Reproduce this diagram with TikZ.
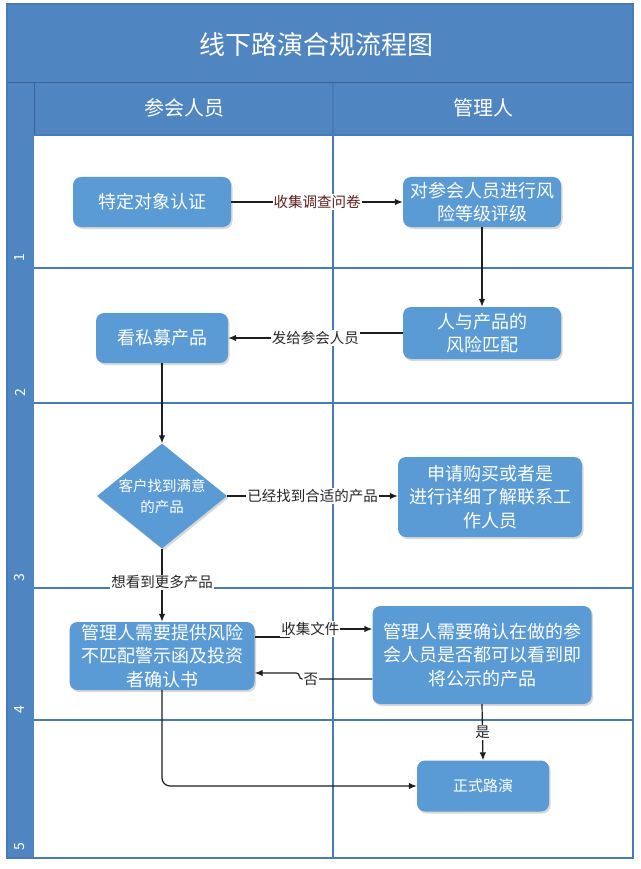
\documentclass[tikz,border=0pt]{standalone}
\usepackage{fontspec}
\newfontfamily\cjk{Noto Sans CJK SC}
\usetikzlibrary{shapes.geometric,arrows.meta,shadows,calc}
\definecolor{band}{RGB}{79,134,194}
\definecolor{boxc}{RGB}{91,155,213}
\definecolor{lanel}{RGB}{70,122,184}
\definecolor{labelred}{RGB}{95,30,30}
\definecolor{arrc}{RGB}{30,30,30}
\tikzset{
  proc/.style={rounded corners=8pt, fill=boxc, text=white, align=center,
    inner sep=0pt, font=\cjk\fontsize{18}{23.5}\selectfont,
    drop shadow={shadow xshift=1.5pt, shadow yshift=-2pt, opacity=0.25, fill=black!60}},
  decis/.style={diamond, fill=boxc, inner sep=0pt,
    drop shadow={shadow xshift=1.5pt, shadow yshift=-2pt, opacity=0.25, fill=black!60}},
  lbl/.style={fill=white, inner sep=1pt, text=black!85, font=\cjk\fontsize{14.5}{16}\selectfont},
  arr/.style={draw=arrc, line width=1.2pt, -{Latex[length=8pt,width=6.5pt]}},
  lanenum/.style={rotate=90, text=white, font=\cjk\fontsize{14}{16}\selectfont},
  lanesep/.style={draw=lanel, line width=1.3pt}
}
\begin{document}
\begin{tikzpicture}[x=1pt,y=-1pt]
\useasboundingbox (0,0) rectangle (640,869);
\fill[white] (0,0) rectangle (640,869);
% bands
\fill[band] (7,4) rectangle (633,83);
\fill[band] (7,83) rectangle (633,135);
\fill[band] (7,135) rectangle (34,858);
\draw[draw=lanel!80!black, line width=1pt] (7,83) -- (633,83);
\draw[draw=lanel!80!black, line width=1pt] (34,83) -- (34,135);
\draw[lanesep] (34,135) -- (633,135);
\draw[lanesep] (333,83) -- (333,858);
\foreach \yy in {268,403,588,720} {\draw[lanesep] (34,\yy) -- (633,\yy);}
\draw[draw=lanel, line width=1.6pt] (7,4) rectangle (633,858);
% texts of bands
\node[text=white, font=\cjk\fontsize{26}{30}\selectfont] (title) at (316,45) {线下路演合规流程图};
\node[text=white, font=\cjk\fontsize{20}{24}\selectfont] (h1) at (184,108) {参会人员};
\node[text=white, font=\cjk\fontsize{20}{24}\selectfont] (h2) at (483,108) {管理人};
\node[lanenum] (l1) at (20,258) {1};
\node[lanenum] (l2) at (20,393) {2};
\node[lanenum] (l3) at (20,578) {3};
\node[lanenum] (l4) at (20,710) {4};
\node[lanenum] (l5) at (20,847) {5};
% nodes
\node[proc, minimum width=158pt, minimum height=50pt] (n1) at (152,202) {特定对象认证};
\node[proc, minimum width=158pt, minimum height=50pt] (n2) at (482,202) {对参会人员进行风\\险等级评级};
\node[proc, minimum width=158pt, minimum height=52pt] (n3) at (482,333) {人与产品的\\风险匹配};
\node[proc, minimum width=132pt, minimum height=50pt] (n4) at (162,338) {看私募产品};
\node[decis, minimum width=130pt, minimum height=105pt] (d1) at (162,496) {};
\node[text=white, align=center, font=\cjk\fontsize{14.5}{21}\selectfont] (d1t) at (d1.center) {客户找到满意\\的产品};
\node[proc, minimum width=184pt, minimum height=80pt] (n5) at (490,497) {申请购买或者是\\进行详细了解联系工\\作人员};
\node[proc, minimum width=185pt, minimum height=68pt] (n6) at (162,656) {管理人需要提供风险\\不匹配警示函及投资\\者确认书};
\node[proc, minimum width=219pt, minimum height=98pt] (n7) at (482,655) {管理人需要确认在做的参\\会人员是否都可以看到即\\将公示的产品};
\node[proc, minimum width=132pt, minimum height=51pt, font=\cjk\fontsize{15}{18}\selectfont] (n8) at (483,786) {正式路演};
% connectors
\draw[arr] (n1) -- node[lbl, text=labelred] {收集调查问卷} (n2);
\draw[arr] (n2) -- (n3);
\draw[arr] (n3.west) -- ++(-60,0) |- node[lbl, pos=0.62] {发给参会人员} (n4.east);
\draw[arr] (n4) -- (d1.north);
\draw[arr] (d1.east) -- node[lbl] {已经找到合适的产品} (n5.west |- d1.east);
\draw[arr] (d1.south) -- node[lbl, pos=0.46] {想看到更多产品} (n6.north);
\draw[arr] ($(n6.east)+(0,-19)$) -- ++(35,0) |- node[lbl, pos=0.625] {收集文件} ($(n7.west)+(0,-26)$);
\draw[arr, rounded corners=3pt] ($(n7.west)+(0,24)$) -- node[lbl, pos=0.84] {否} ++(-73,0) |- ($(n6.east)+(0,17)$);
\draw[arr] (n7.south) -- node[lbl] {是} (n8.north);
\draw[arr, rounded corners=8pt] (n6.south) |- (n8.west);
\end{tikzpicture}
\end{document}
